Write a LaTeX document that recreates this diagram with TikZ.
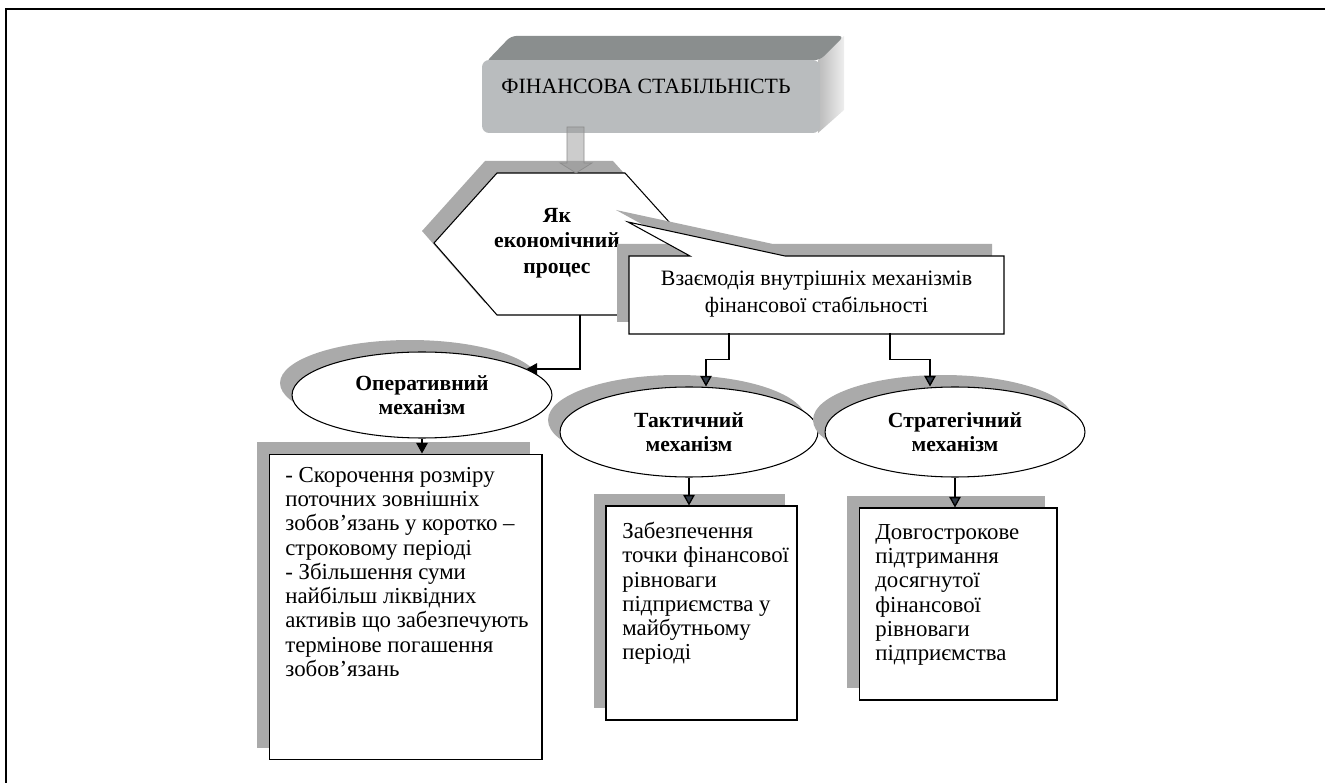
\documentclass[tikz,border=0pt]{standalone}
\usepackage{fontspec}
\setmainfont{Liberation Serif}
\usetikzlibrary{arrows.meta,shapes.geometric,shadows,calc}
\definecolor{shgray}{RGB}{170,170,170}
\definecolor{frontgray}{RGB}{185,188,190}
\definecolor{topgray}{RGB}{138,142,142}
\definecolor{sidegray}{RGB}{212,212,212}
\definecolor{headcol}{RGB}{47,56,68}
\begin{document}
\begin{tikzpicture}[x=0.02cm,y=-0.02cm,
  font=\fontsize{12}{13.8}\selectfont,
  shad/.style={drop shadow={shadow xshift=-0.24cm,shadow yshift=0.24cm,fill=shgray,opacity=1}},
  ell/.style={ellipse,draw,line width=0.6pt,fill=white,inner sep=0pt,align=center,
    font=\fontsize{12.3}{14}\selectfont\bfseries,shad},
  mbox/.style={rectangle,draw,line width=0.6pt,fill=white,inner sep=0pt,shad},
  txt/.style={anchor=north west,inner sep=0pt,align=left,font=\fontsize{13}{13.8}\selectfont},
  conn/.style={line width=0.75pt,-{Triangle[width=6.5pt,length=6pt,fill=headcol]}},
  connb/.style={line width=0.75pt,-{Triangle[width=6.5pt,length=6pt]}}
]
\useasboundingbox (0,0) rectangle (1325,783);
% frame
\draw[line width=1.5pt] (6,783) -- (6,9) -- (1325,9);

% 3D top box
\shade[left color=sidegray!70!gray,right color=sidegray!40!white] (818,60) -- (844,36) -- (844,110) -- (818,133) -- cycle;
\fill[topgray,rounded corners=3pt] (486,62) -- (511,36) -- (844,36) -- (820,60) -- cycle;
\node[fill=frontgray,rounded corners=4pt,minimum width=6.76cm,minimum height=1.46cm,inner sep=0pt] (fin) at (651,96.5) {};
\node[inner sep=0pt,font=\fontsize{12.4}{14}\selectfont] (fintext) at (646,86) {ФІНАНСОВА СТАБІЛЬНІСТЬ};

% hexagon
\filldraw[fill=white,draw=black,line width=0.6pt,shad] (497,173) -- (625,173) -- (688,243) -- (625,315) -- (497,315) -- (434,243) -- cycle;
\node[font=\fontsize{12.3}{14.5}\selectfont\bfseries,align=center,inner sep=0pt] (proc) at (557,243) {Як\\економічний\\процес};
\coordinate (procb) at (580,315);

% callout
\filldraw[fill=white,draw=black,line width=0.6pt,shad] (629,256) -- (690,256) -- (628,222) -- (785,256) -- (1004,256) -- (1004,334) -- (629,334) -- cycle;
\node[align=center,font=\fontsize{12.5}{15.5}\selectfont,minimum width=7.5cm,minimum height=1.56cm,inner sep=0pt] (vz) at (816.5,294) {Взаємодія внутрішніх механізмів\\фінансової стабільності};

% hollow arrow
\filldraw[fill=gray!80,fill opacity=0.5,draw=gray!90] (567,127) -- (584,127) -- (584,163) -- (592,163) -- (576,173) -- (560,163) -- (567,163) -- cycle;

% ellipses
\node[ell,minimum width=5.2cm,minimum height=1.72cm] (oper) at (422,395) {Оперативний\\механізм};
\node[ell,minimum width=5.16cm,minimum height=1.8cm] (tak) at (689,432) {Тактичний\\механізм};
\node[ell,minimum width=5.2cm,minimum height=1.8cm] (str) at (955,432) {Стратегічний\\механізм};

% connectors to ellipses
\draw[connb] (procb) |- (oper.14);
\draw[conn] ([xshift=-1.75cm]vz.south) -- ++(0,26) -| ([xshift=0.34cm]tak.north);
\draw[conn] ([xshift=1.47cm]vz.south) -- ++(0,26) -| ([xshift=-0.5cm]str.north);

% boxes
\node[mbox,minimum width=5.46cm,minimum height=6.12cm] (b1) at (405.5,607) {};
\node[mbox,minimum width=3.82cm,minimum height=4.28cm] (b2) at (701.5,613) {};
\node[mbox,minimum width=3.96cm,minimum height=3.84cm] (b3) at (958,604) {};

\node[txt] (t1) at (285,467) {- Скорочення розміру\\поточних зовнішніх\\зобов’язань у коротко –\\строковому періоді\\- Збільшення суми\\найбільш ліквідних\\активів що забезпечують\\термінове погашення\\зобов’язань};
\node[txt] (t2) at (622,522) {Забезпечення\\точки фінансової\\рівноваги\\підприємства у\\майбутньому\\періоді};
\node[txt] (t3) at (875,524) {Довгострокове\\підтримання\\досягнутої\\фінансової\\рівноваги\\підприємства};

% connectors to boxes
\draw[connb] (oper.south) -- (oper.south |- b1.north);
\draw[conn] (tak.south) -- (tak.south |- b2.north);
\draw[conn] (str.south) -- (str.south |- b3.north);
\end{tikzpicture}
\end{document}
